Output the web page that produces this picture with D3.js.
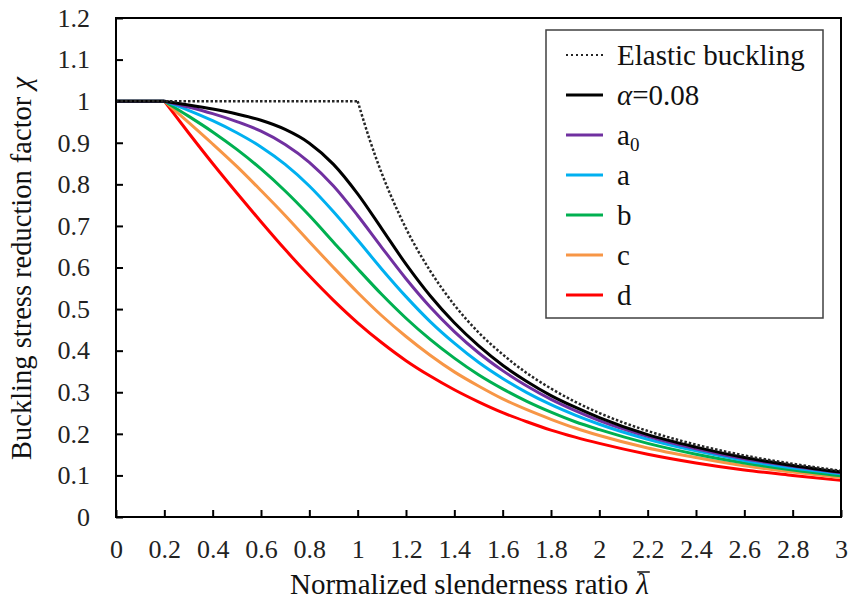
<!DOCTYPE html>
<html>
<head>
<meta charset="utf-8">
<script src="https://cdn.jsdelivr.net/npm/d3@7"></script>
<style>
  body { margin: 0; background: #fff; }
  svg text { font-family: "Liberation Serif", "Times New Roman", "DejaVu Serif", serif; }
  .axis text { font-size: 26px; fill: #222; }
  .axis line { stroke: #000; stroke-width: 2; }
  .axis path { display: none; }
</style>
</head>
<body>
<svg id="chart"></svg>
<script>
// Normalized slenderness ratio (x) for the buckling curves
const lambdaValues = [0, 0.2, 0.3, 0.4, 0.5, 0.6, 0.7, 0.8, 0.9, 1.0, 1.1, 1.2, 1.3, 1.4, 1.5,
                      1.6, 1.7, 1.8, 1.9, 2.0, 2.2, 2.4, 2.6, 2.8, 3.0];

// Reduction factor
const chiAlpha008 = [1, 1, .991, .981, .969, .954, .932, .899, .848, .777, .693, .608, .532, .467, .412,
                     .365, .326, .292, .264, .239, .198, .168, .143, .124, .108];
const chiA0 = [1, 1, .986, .970, .951, .928, .896, .853, .796, .725, .648, .573, .505, .446, .395,
               .352, .315, .283, .256, .232, .194, .164, .140, .122, .106];
const chiA = [1, 1, .978, .953, .924, .890, .848, .796, .734, .666, .596, .530, .470, .418, .372,
              .333, .299, .270, .245, .223, .187, .159, .136, .118, .104];
const chiB = [1, 1, .964, .926, .884, .837, .784, .725, .661, .597, .535, .478, .427, .382, .342,
              .308, .278, .252, .229, .210, .177, .151, .130, .113, .099];
const chiC = [1, 1, .949, .897, .843, .785, .725, .662, .600, .540, .484, .434, .389, .349, .315,
              .284, .258, .235, .214, .196, .166, .143, .123, .108, .095];
const chiD = [1, 1, .924, .850, .779, .710, .643, .580, .521, .467, .419, .376, .339, .306, .277,
              .251, .229, .209, .192, .177, .151, .130, .113, .100, .088];

// Elastic buckling curve
const elasticLambda = [0, 1.0, 1.05, 1.1, 1.15, 1.2, 1.3, 1.4, 1.5, 1.6, 1.7, 1.8, 1.9, 2.0,
                       2.2, 2.4, 2.6, 2.8, 3.0];
const elasticChi = [1, 1, .907, .826, .756, .694, .592, .510, .444, .391, .346, .309, .277, .250,
                    .207, .174, .148, .128, .111];

const seriesNames = ["Elastic buckling", "α=0.08", "a0", "a", "b", "c", "d"];
const seriesColors = ["#262626", "#000000", "#7030A0", "#00B0F0", "#00B050", "#F79646", "#FF0000"];

const xTicks = d3.range(0, 3.01, 0.2);
const yTicks = d3.range(0, 1.21, 0.1);

class BucklingChart {

    constructor(_config, _series) {
        this.config = {
            parentElement: _config.parentElement,
            width: _config.width || 850,
            height: _config.height || 605,
            margin: _config.margin || { top: 18, right: 9, bottom: 88, left: 116 }
        };
        this.series = _series;
        this.initVis();
    }

    initVis() {
        let vis = this;
        const m = vis.config.margin;
        vis.innerWidth = vis.config.width - m.left - m.right;
        vis.innerHeight = vis.config.height - m.top - m.bottom;

        vis.svg = d3.select(vis.config.parentElement)
            .attr('width', vis.config.width)
            .attr('height', vis.config.height);

        vis.chart = vis.svg.append('g')
            .attr('transform', `translate(${m.left},${m.top})`);

        vis.xScale = d3.scaleLinear().domain([0, 3]).range([0, vis.innerWidth]);
        vis.yScale = d3.scaleLinear().domain([0, 1.2]).range([vis.innerHeight, 0]);

        // ticks point inwards
        vis.xAxis = d3.axisBottom(vis.xScale).tickValues(xTicks)
            .tickSizeInner(-7).tickSizeOuter(0).tickPadding(23)
            .tickFormat(d => d3.format('~g')(+d.toFixed(1)));
        vis.yAxis = d3.axisLeft(vis.yScale).tickValues(yTicks)
            .tickSizeInner(-7).tickSizeOuter(0).tickPadding(26)
            .tickFormat(d => d3.format('~g')(+d.toFixed(1)));

        vis.chart.append('g')
            .attr('class', 'axis x-axis')
            .attr('transform', `translate(0,${vis.innerHeight})`)
            .call(vis.xAxis);
        vis.chart.append('g')
            .attr('class', 'axis y-axis')
            .call(vis.yAxis);

        vis.linesG = vis.chart.append('g');

        // plot frame
        vis.chart.append('rect')
            .attr('width', vis.innerWidth)
            .attr('height', vis.innerHeight)
            .attr('fill', 'none')
            .attr('stroke', '#000')
            .attr('stroke-width', 2);

        vis.renderVis();
        vis.renderLegend();
        vis.renderTitles();
    }

    renderVis() {
        let vis = this;
        const curved = d3.line()
            .x(d => vis.xScale(d.x))
            .y(d => vis.yScale(d.y))
            .curve(d3.curveMonotoneX);
        const straight = d3.line()
            .x(d => vis.xScale(d.x))
            .y(d => vis.yScale(d.y));

        // draw in reverse so black sits on top of the colours
        vis.series.slice().reverse().forEach(s => {
            const pts = s.x.map((x, i) => ({ x: x, y: s.y[i] }));
            // split at the plateau end so the corner stays sharp
            let k = 0;
            while (k + 1 < pts.length && pts[k + 1].y >= 1) k++;
            const g = vis.linesG.append('g')
                .attr('fill', 'none')
                .attr('stroke', s.color)
                .attr('stroke-width', s.dotted ? 2.5 : 3)
                .attr('stroke-dasharray', s.dotted ? '2.5,2' : null);
            g.append('path').attr('d', straight(pts.slice(0, k + 1)));
            g.append('path').attr('d', curved(pts.slice(k)));
        });
    }

    renderLegend() {
        let vis = this;
        const legend = vis.svg.append('g').attr('transform', 'translate(546,30)');
        legend.append('rect')
            .attr('width', 277).attr('height', 288)
            .attr('fill', '#fff')
            .attr('stroke', '#404040')
            .attr('stroke-width', 1.5);

        vis.series.forEach((s, i) => {
            const y = 25 + i * 40;
            legend.append('line')
                .attr('x1', 20).attr('x2', 57)
                .attr('y1', y).attr('y2', y)
                .attr('stroke', s.color)
                .attr('stroke-width', s.dotted ? 2 : 3)
                .attr('stroke-dasharray', s.dotted ? '2,3' : null);
            const t = legend.append('text')
                .attr('x', 71).attr('y', y + 10)
                .style('font-size', '29px')
                .attr('fill', '#111');
            if (s.name === 'α=0.08') {
                t.append('tspan').attr('font-style', 'italic').text('α');
                t.append('tspan').text('=0.08');
            } else if (s.name === 'a0') {
                t.append('tspan').text('a');
                t.append('tspan').attr('dy', 6).style('font-size', '19px').text('0');
            } else {
                t.text(s.name);
            }
        });
    }

    renderTitles() {
        let vis = this;
        const m = vis.config.margin;

        // x title with italic lambda bar
        const xt = vis.svg.append('text')
            .attr('x', 290).attr('y', 594)
            .style('font-size', '29px')
            .attr('fill', '#111')
            .text('Normalized slenderness ratio');
        const w = xt.node().getComputedTextLength() + 8;
        const lam = vis.svg.append('text')
            .attr('x', 290 + w).attr('y', 594)
            .style('font-size', '29px')
            .attr('font-style', 'italic')
            .attr('fill', '#111')
            .text('λ');
        const lw = lam.node().getComputedTextLength();
        vis.svg.append('line')
            .attr('x1', 290 + w + 1).attr('x2', 290 + w + lw + 1)
            .attr('y1', 572).attr('y2', 572)
            .attr('stroke', '#111').attr('stroke-width', 1.5);

        // y title
        const yt = vis.svg.append('text')
            .attr('transform', `translate(31,${m.top + vis.innerHeight / 2 + 1}) rotate(-90)`)
            .attr('text-anchor', 'middle')
            .style('font-size', '28.5px')
            .attr('fill', '#111');
        yt.append('tspan').text('Buckling stress reduction factor ');
        yt.append('tspan').attr('font-style', 'italic').text('χ');
    }
}

const series = [
    { name: seriesNames[0], color: seriesColors[0], x: elasticLambda, y: elasticChi, dotted: true },
    { name: seriesNames[1], color: seriesColors[1], x: lambdaValues, y: chiAlpha008 },
    { name: seriesNames[2], color: seriesColors[2], x: lambdaValues, y: chiA0 },
    { name: seriesNames[3], color: seriesColors[3], x: lambdaValues, y: chiA },
    { name: seriesNames[4], color: seriesColors[4], x: lambdaValues, y: chiB },
    { name: seriesNames[5], color: seriesColors[5], x: lambdaValues, y: chiC },
    { name: seriesNames[6], color: seriesColors[6], x: lambdaValues, y: chiD }
];

new BucklingChart({ parentElement: '#chart' }, series);
</script>
</body>
</html>
